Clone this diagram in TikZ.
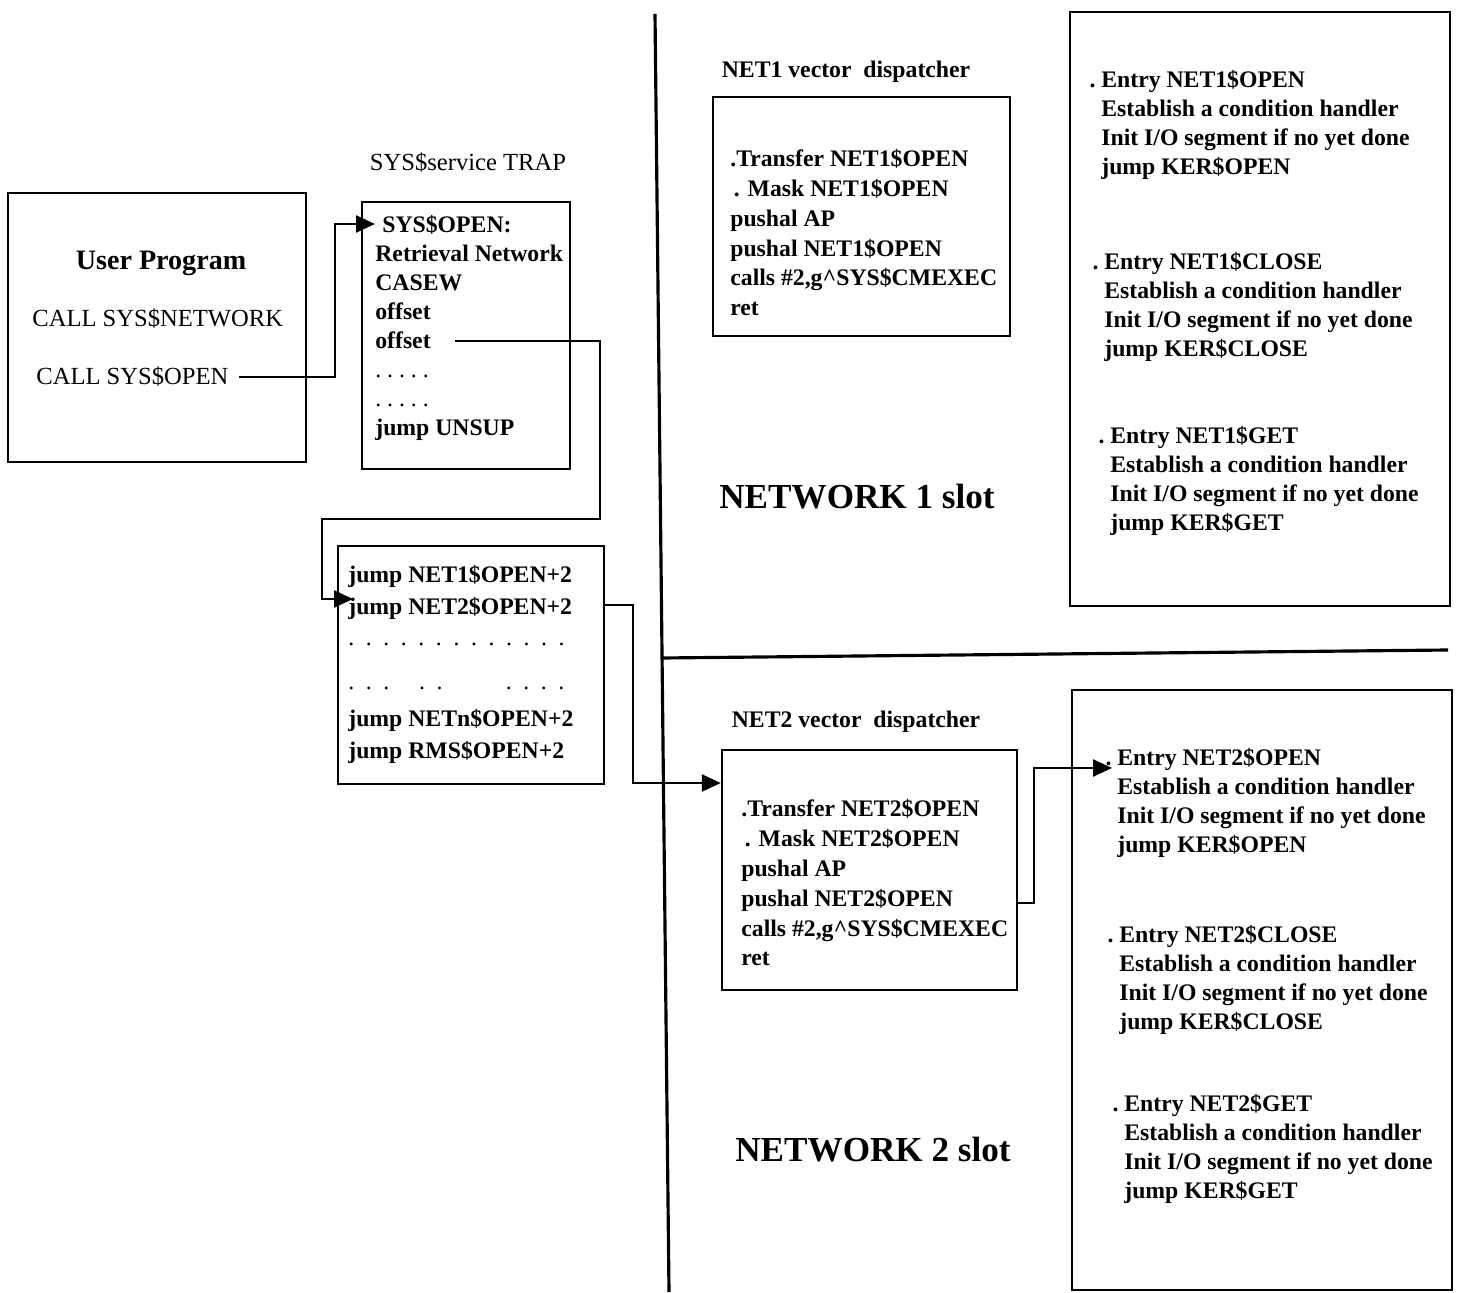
\documentclass[tikz,border=0pt]{standalone}
\usepackage{fontspec}
\setmainfont{Liberation Serif}
\usetikzlibrary{arrows.meta,fit}
\newcommand{\codesize}{\fontsize{13.5}{16.5}\selectfont}
\newcommand{\dotsep}{\hspace{6.6pt}}
\tikzset{
  framebox/.style={
    draw,
    line width=1.4pt,
    inner sep=0pt
  },
  codeblock/.style={
    anchor=north west,
    align=left,
    inner sep=0pt,
    font=\codesize\bfseries,
    execute at begin node=\strut
  },
  plaintext/.style={
    inner sep=0pt,
    font=\fontsize{14}{17}\selectfont
  },
  headtext/.style={
    inner sep=0pt,
    font=\codesize\bfseries
  },
  slottext/.style={
    inner sep=0pt,
    font=\fontsize{20}{24}\selectfont\bfseries
  },
  flowarrow/.style={
    -{Triangle[length=3.8mm,width=3.4mm]},
    line width=1.4pt
  },
  divider/.style={
    line width=1.8pt
  }
}

\begin{document}
\begin{tikzpicture}[x=0.02cm, y=-0.02cm]
    \useasboundingbox (0,0) rectangle (1463,1293);

    % user program
    \node[framebox, fit={(8,193) (306,462)}] (user) {};
    \node[inner sep=0pt, font=\fontsize{16}{19}\selectfont\bfseries] (usertitle) at (161,263) {User Program};
    \node[plaintext, anchor=base west] (callnet) at (32,327) {CALL\ SYS\$NETWORK};
    \node[plaintext, anchor=base west] (callopen) at (36,385) {CALL\ SYS\$OPEN};

    % service trap
    \node[plaintext] (traplabel) at (468,163) {SYS\$service\ TRAP};
    \node[framebox, fit={(362,202) (570,469)}] (trap) {};
    \node[codeblock] (trapcode) at (375,215) {
        \hspace{4pt}SYS\$OPEN:\\
        Retrieval Network\\
        CASEW\\
        offset\\
        offset\\
        {\mdseries .\ .\ .\ .\ .}\\
        {\mdseries .\ .\ .\ .\ .}\\
        jump UNSUP
    };

    % jump table
    \node[framebox, fit={(338,546) (604,784)}] (jump) {};
    \node[codeblock, font=\fontsize{13.5}{18}\selectfont\bfseries] (jumpcode) at (348,565) {
        jump NET1\$OPEN+2\\
        jump NET2\$OPEN+2\\
        {\mdseries .\dotsep.\dotsep.\dotsep.\dotsep.\dotsep.\dotsep.\dotsep.\dotsep.\dotsep.\dotsep.\dotsep.\dotsep.}\\[7pt]
        {\mdseries .\dotsep.\dotsep.\hspace{17pt}.\dotsep.\hspace{36pt}.\dotsep.\dotsep.\dotsep.}\\[3pt]
        jump NETn\$OPEN+2\\
        jump RMS\$OPEN+2
    };

    % network 1 slot
    \node[headtext] (disp1label) at (846,72) {NET1 vector\ \ dispatcher};
    \node[framebox, fit={(713,97) (1010,336)}] (disp1) {};
    \node[codeblock, font=\fontsize{13.5}{17}\selectfont\bfseries] (disp1code) at (730,149) {
        .Transfer NET1\$OPEN\\
        \hspace{2pt}. Mask NET1\$OPEN\\
        pushal AP\\
        pushal NET1\$OPEN\\
        calls \#2,g\textasciicircum SYS\$CMEXEC\\
        ret
    };
    \node[slottext] (slot1) at (857,497) {NETWORK 1 slot};

    \node[framebox, fit={(1070,12) (1450,606)}] (ent1) {};
    \node[codeblock] (ent1a) at (1101,70) {
        \llap{.\ }Entry NET1\$OPEN\\
        Establish a condition handler\\
        Init I/O segment if no yet done\\
        jump KER\$OPEN
    };
    \node[codeblock] (ent1b) at (1104,252) {
        \llap{.\ }Entry NET1\$CLOSE\\
        Establish a condition handler\\
        Init I/O segment if no yet done\\
        jump KER\$CLOSE
    };
    \node[codeblock] (ent1c) at (1110,426) {
        \llap{.\ }Entry NET1\$GET\\
        Establish a condition handler\\
        Init I/O segment if no yet done\\
        jump KER\$GET
    };

    % network 2 slot
    \node[headtext] (disp2label) at (856,722) {NET2 vector\ \ dispatcher};
    \node[framebox, fit={(722,750) (1017,990)}] (disp2) {};
    \node[codeblock, font=\fontsize{13.5}{17}\selectfont\bfseries] (disp2code) at (741,799) {
        .Transfer NET2\$OPEN\\
        \hspace{2pt}. Mask NET2\$OPEN\\
        pushal AP\\
        pushal NET2\$OPEN\\
        calls \#2,g\textasciicircum SYS\$CMEXEC\\
        ret
    };
    \node[slottext] (slot2) at (873,1150) {NETWORK 2 slot};

    \node[framebox, fit={(1072,690) (1452,1290)}] (ent2) {};
    \node[codeblock] (ent2a) at (1117,748) {
        \llap{.\ }Entry NET2\$OPEN\\
        Establish a condition handler\\
        Init I/O segment if no yet done\\
        jump KER\$OPEN
    };
    \node[codeblock] (ent2b) at (1119,925) {
        \llap{.\ }Entry NET2\$CLOSE\\
        Establish a condition handler\\
        Init I/O segment if no yet done\\
        jump KER\$CLOSE
    };
    \node[codeblock] (ent2c) at (1124,1094) {
        \llap{.\ }Entry NET2\$GET\\
        Establish a condition handler\\
        Init I/O segment if no yet done\\
        jump KER\$GET
    };

    % slot dividers
    \draw[divider] (655,14) -- (669,1292);
    \draw[divider] (662,658) -- (1448,650);

    % connectors
    \coordinate (riseA) at (335,224);
    \coordinate (offsetout) at (455,341);
    \coordinate (turnA) at (600,519);
    \coordinate (turnB) at (322,519);
    \coordinate (jumpin) at (353,599);
    \coordinate (jumpout) at (633,605);
    \coordinate (turnC) at (633,783);
    \coordinate (riseB) at (1034,903);
    \coordinate (e2in) at (1112,768);

    \draw[flowarrow] ([xshift=6pt]callopen.east) -| (riseA) -- (trapcode.west |- riseA);
    \draw[flowarrow] (offsetout) -| (turnA) -- (turnB) |- (jumpin);
    \draw[flowarrow] (jump.east |- jumpout) -- (jumpout) -- (turnC) -- (disp2.west |- turnC);
    \draw[flowarrow] (disp2.east |- riseB) -- (riseB) |- (e2in);
\end{tikzpicture}
\end{document}
